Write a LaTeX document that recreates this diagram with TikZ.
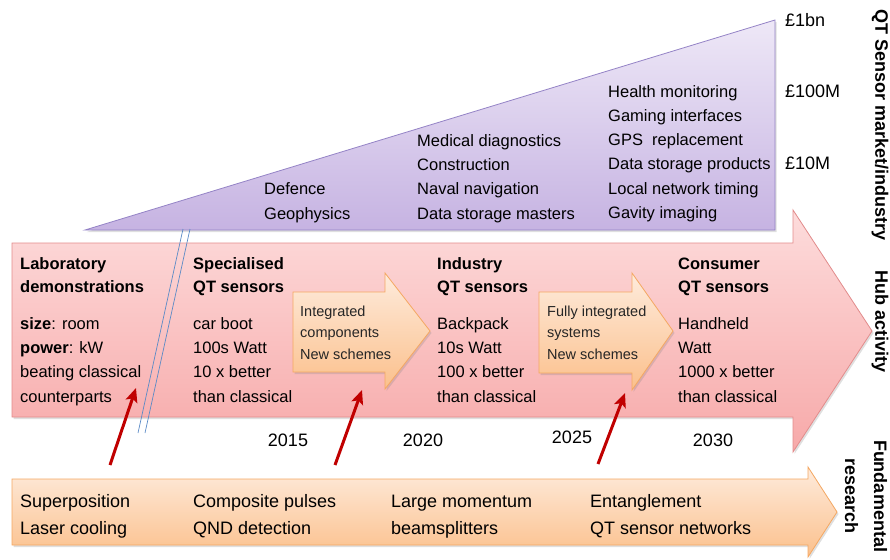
\documentclass[tikz,border=0pt]{standalone}
\usepackage{fontspec}
\setmainfont{Liberation Sans}
\usetikzlibrary{arrows.meta,shadows}
\definecolor{purpedge}{HTML}{9483C6}
\definecolor{purptop}{HTML}{EEE8F7}
\definecolor{purpbot}{HTML}{C6B3E2}
\definecolor{pinkedge}{HTML}{E38C8C}
\definecolor{pinktop}{HTML}{FDDCDC}
\definecolor{pinkbot}{HTML}{F7A9A9}
\definecolor{orgedge}{HTML}{F5A862}
\definecolor{orgtop}{HTML}{FEEBDC}
\definecolor{orgbot}{HTML}{FBC08C}
\definecolor{darkred}{HTML}{C00000}
\definecolor{lineblue}{HTML}{5A8AC6}
\begin{document}
\begin{tikzpicture}[x=1pt,y=-1pt,
  shapeshadow/.style={drop shadow={opacity=0.25,shadow xshift=1.5pt,shadow yshift=-2pt}},
  purpshape/.style={draw=purpedge,line width=0.8pt,top color=purptop,bottom color=purpbot,shapeshadow},
  pinkshape/.style={draw=pinkedge,line width=0.8pt,top color=pinktop,bottom color=pinkbot,shapeshadow},
  orgshape/.style={draw=orgedge,line width=0.8pt,top color=orgtop,bottom color=orgbot,shapeshadow},
  txt/.style={inner sep=0pt,anchor=base west,align=left,font=\fontsize{16.5}{24.3}\selectfont},
  head/.style={inner sep=0pt,anchor=base west,align=left,font=\bfseries\fontsize{16.5}{23.5}\selectfont},
  small/.style={inner sep=0pt,anchor=base west,align=left,font=\fontsize{14.5}{21.5}\selectfont,text=black!85},
  big/.style={inner sep=0pt,anchor=base west,align=left,font=\fontsize{18}{27}\selectfont},
  year/.style={inner sep=0pt,anchor=base,font=\fontsize{18}{22}\selectfont},
  side/.style={inner sep=0pt,anchor=center,align=center,rotate=-90,font=\bfseries\fontsize{18}{29}\selectfont},
  redarrow/.style={draw=darkred,line width=3pt,-{Stealth[length=14pt,width=12pt,inset=3pt]}},
  twin/.style={draw=lineblue,line width=0.7pt}]
\useasboundingbox (0,0) rectangle (890,559);

% market triangle
\path[purpshape] (85,230) -- (775,20) -- (775,230) -- cycle;
% hub activity arrow
\path[pinkshape] (12,243) -- (793,243) -- (793,210) -- (872,331) -- (793,452) -- (793,417) -- (12,417) -- cycle;
% fundamental research arrow
\path[orgshape] (12,479) -- (808,479) -- (808,467) -- (837,512) -- (808,557) -- (808,545) -- (12,545) -- cycle;
% small step arrows
\path[orgshape] (293,292) -- (385,292) -- (385,273) -- (430,331) -- (385,389) -- (385,372) -- (293,372) -- cycle;
\path[orgshape] (539,292) -- (632,292) -- (632,273) -- (673,331) -- (632,390) -- (632,373) -- (539,373) -- cycle;

% axis break lines
\coordinate (b1a) at (183,229); \coordinate (b1b) at (138,433);
\coordinate (b2a) at (190,229); \coordinate (b2b) at (145,433);
\draw[twin] (b1a) -- (b1b);
\draw[twin] (b2a) -- (b2b);

% market texts (anchored at the baseline of the last line)
\node[txt] (m1) at (264,219) {Defence\\Geophysics};
\node[txt] (m2) at (417,219) {Medical diagnostics\\Construction\\Naval navigation\\Data storage masters};
\node[txt] (m3) at (608,218.5) {Health monitoring\\Gaming interfaces\\GPS\ \ replacement\\Data storage products\\Local network timing\\Gavity imaging};
\node[big] (v1) at (785,26.5) {£1bn};
\node[big] (v2) at (785,97.5) {£100M};
\node[big] (v3) at (785,169.5) {£10M};

% hub texts
\node[head] (h1) at (20,292.5) {Laboratory\\demonstrations};
\node[txt] (t1) at (20,402) {\textbf{size}: room\\\textbf{power}: kW\\beating classical\\counterparts};
\node[head] (h2) at (193,292.5) {Specialised\\QT sensors};
\node[txt] (t2) at (193,402) {car boot\\100s Watt\\10 x better\\than classical};
\node[head] (h3) at (437,292.5) {Industry\\QT sensors};
\node[txt] (t3) at (437,402) {Backpack\\10s Watt\\100 x better\\than classical};
\node[head] (h4) at (678,292.5) {Consumer\\QT sensors};
\node[txt] (t4) at (678,402) {Handheld\\Watt\\1000 x better\\than classical};
\node[small] (s1) at (300,359) {Integrated\\components\\New schemes};
\node[small] (s2) at (547,359) {Fully integrated\\systems\\New schemes};

% years
\node[year] (y1) at (288,446.5) {2015};
\node[year] (y2) at (423,446.5) {2020};
\node[year] (y3) at (572,443.5) {2025};
\node[year] (y4) at (713,446.5) {2030};

% research texts
\node[big] (r1) at (20,534) {Superposition\\Laser cooling};
\node[big] (r2) at (193,534) {Composite pulses\\QND detection};
\node[big] (r3) at (391,534) {Large momentum\\beamsplitters};
\node[big] (r4) at (590,534) {Entanglement\\QT sensor networks};

% side labels
\node[side] (l1) at (880,125) {QT Sensor market/industry};
\node[side] (l2) at (880,322) {Hub activity};
\node[side] (l3) at (866,496) {Fundamental\\research};

% red arrows
\coordinate (a1s) at (110,465); \coordinate (a1e) at (136,388);
\coordinate (a2s) at (335,465); \coordinate (a2e) at (362,390);
\coordinate (a3s) at (598,464); \coordinate (a3e) at (625,393);
\draw[redarrow] (a1s) -- (a1e);
\draw[redarrow] (a2s) -- (a2e);
\draw[redarrow] (a3s) -- (a3e);
\end{tikzpicture}
\end{document}
